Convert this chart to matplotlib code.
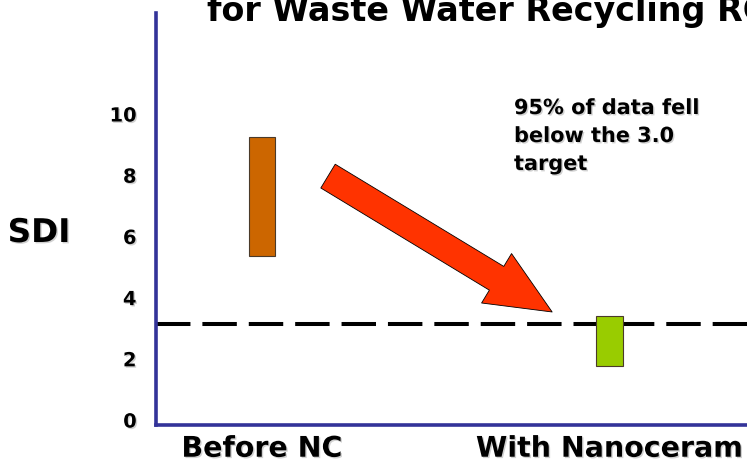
import matplotlib
matplotlib.use("Agg")
import matplotlib.pyplot as plt
from matplotlib.patches import FancyArrowPatch
import matplotlib.patheffects as pe

plt.rcParams['font.family'] = ['DejaVu Sans']
plt.rcParams['lines.scale_dashes'] = False

# ---- data ----
categories = ["Before NC", "With Nanoceram"]
sdi_low = [5.35, 1.77]
sdi_high = [9.25, 3.4]
bar_colors = ["#CC6600", "#99CC00"]
target_sdi = 3.15
y_ticks = [0, 2, 4, 6, 8, 10]
title_text = "for Waste Water Recycling RO"
note_text = "95% of data fell\nbelow the 3.0\ntarget"

W, H = 747, 468
fig = plt.figure(figsize=(W / 100, H / 100), dpi=100)

# axes placement in pixels (chart is cropped on the right)
ax_left_px, ax_right_px, ax_top_px, ax_bot_px = 156, 818, 13, 425
ax = fig.add_axes([ax_left_px / W, 1 - ax_bot_px / H,
                   (ax_right_px - ax_left_px) / W, (ax_bot_px - ax_top_px) / H])

shadow = [pe.SimplePatchShadow(offset=(1.0, -1.0), shadow_rgbFace="#9a9a9a", alpha=0.45), pe.Normal()]

x = list(range(len(categories)))
heights = [h - l for h, l in zip(sdi_high, sdi_low)]
ax.bar(x, heights, bottom=sdi_low, width=0.075, color=bar_colors,
       edgecolor="#4a3a2a", linewidth=0.8, zorder=3)

ax.axhline(target_sdi, color="black", linewidth=2.9, dashes=(24.8, 8.6), zorder=2)

ax.set_xlim(-0.305, 1.6)
ax.set_ylim(-0.163, 13.3)

ax.set_yticks(y_ticks)
ax.set_yticklabels([str(v) for v in y_ticks], fontsize=14, fontweight="bold")
ax.set_xticks(x)
ax.set_xticklabels(categories, fontsize=20.5, fontweight="bold")
ax.tick_params(axis="y", length=0, pad=14)
ax.tick_params(axis="x", length=0, pad=7)
for lab in ax.get_xticklabels() + ax.get_yticklabels():
    lab.set_path_effects(shadow)

for s in ["top", "right"]:
    ax.spines[s].set_visible(False)
for s in ["left", "bottom"]:
    ax.spines[s].set_color("#333399")
    ax.spines[s].set_linewidth(2.6)

# arrow annotation
arrow = FancyArrowPatch((0.19, 7.97), (0.835, 3.53),
                        arrowstyle="simple,head_length=46.8,head_width=41.6,tail_width=20",
                        mutation_scale=1, shrinkA=0, shrinkB=0,
                        facecolor="#FF3300", edgecolor="black", linewidth=0.6, zorder=4)
ax.add_patch(arrow)

fig.text(39 / W, 1 - 242 / H, "SDI", ha="center", va="baseline",
         fontsize=23.5, fontweight="bold", path_effects=shadow)
fig.text(514 / W, 1 - 98 / H, note_text, ha="left", va="top",
         fontsize=15, fontweight="bold", linespacing=1.5, path_effects=shadow)
fig.text(207 / W, 1 - 21 / H, title_text, ha="left", va="baseline",
         fontsize=24, fontweight="bold")

fig.savefig("out.png", dpi=100)
